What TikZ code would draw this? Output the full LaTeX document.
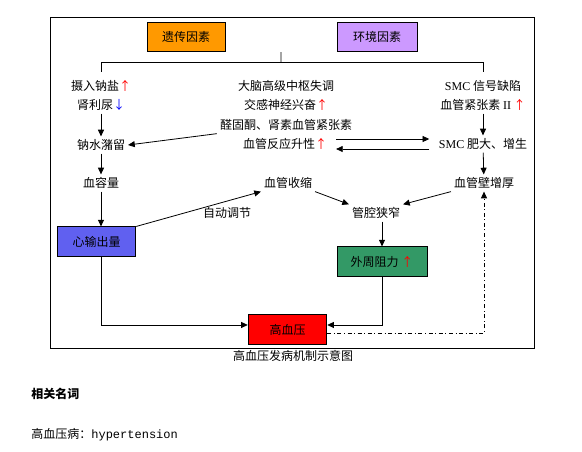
\documentclass[tikz,border=0pt]{standalone}
\usepackage{fontspec}
\setmainfont{Noto Sans CJK SC}
\newfontfamily\latserif{Liberation Serif}
\newfontfamily\monotxt{Liberation Mono}
\usepackage{tikz}
\usetikzlibrary{arrows.meta,positioning,calc}
\definecolor{cgene}{RGB}{255,153,0}
\definecolor{cenv}{RGB}{204,153,255}
\definecolor{cheart}{RGB}{96,96,240}
\definecolor{cresist}{RGB}{51,153,102}
\definecolor{chbp}{RGB}{255,0,0}
\newcommand{\Rup}{\textcolor{red}{↑}}
\newcommand{\Bdown}{\textcolor{blue}{↓}}
\newcommand{\cnfont}{\fontsize{9pt}{14.25pt}\selectfont}

\begin{document}
\begin{tikzpicture}[x=0.75pt,y=-0.75pt,
    line width=0.6pt,
    arr/.style={-{Triangle[length=5pt,width=4.5pt]}},
    txt/.style={font=\cnfont, align=center, inner sep=2pt},
    fbox/.style={draw, font=\cnfont, minimum height=22pt, inner sep=0pt}]
    \fill[white] (0,0) rectangle (582,451);
    \useasboundingbox (0,0) rectangle (582,451);
    \draw (50,17) rectangle (534,348);

    % causes
    \node[fbox, fill=cgene, minimum width=58.5pt] (gene) at (186,37) {遗传因素};
    \node[fbox, fill=cenv, minimum width=60pt] (env) at (377,37) {环境因素};
    \coordinate (join) at ($(gene.south east)!0.5!(env.south west)$);
    \coordinate (fork) at (281,62);

    % first row
    \node[txt] (salt) at (101,95.5) {摄入钠盐\Rup\\肾利尿\Bdown};
    \node[txt] (brain) at (286,95.5) {大脑高级中枢失调\\交感神经兴奋\Rup};
    \node[txt] (angio) at (483,95.5) {{\latserif SMC} 信号缺陷\\血管紧张素 {\latserif II} \Rup};
    \draw (join) -- (fork);
    \draw (salt.north |- fork) -- (angio.north |- fork);
    \draw (salt.north |- fork) -- ([yshift=4pt]salt.north);
    \draw (angio.north |- fork) -- ([yshift=4pt]angio.north);

    % middle rows
    \node[txt] (aldo) at (286,125) {醛固酮、肾素血管紧张素};
    \node[txt] (retain) at (101,145) {钠水潴留};
    \node[txt] (react) at (285,144) {血管反应升性\Rup};
    \node[txt] (hyper) at (483,144) {{\latserif SMC} 肥大、增生};
    \node[txt] (volume) at (101,183) {血容量};
    \node[txt] (constrict) at (288,183) {血管收缩};
    \node[txt] (wall) at (484,183) {血管壁增厚};
    \node[txt] (narrow) at (376,213) {管腔狭窄};
    \node[txt] (autoreg) at (227,213) {自动调节};

    % boxes
    \node[fbox, fill=cheart, minimum width=59pt] (cardiac) at (96.5,241.5) {心输出量};
    \node[fbox, fill=cresist, minimum width=67.5pt] (resist) at (382,261.5) {外周阻力 \Rup};
    \node[fbox, fill=chbp, minimum width=59pt] (hbp) at (287.5,329.5) {高血压};

    % connectors
    \draw[arr] (salt) -- (retain);
    \draw[arr] (aldo.south west) -- (retain.east);
    \draw[arr] (retain) -- (volume);
    \draw[arr] (volume.south) -- (volume.south |- cardiac.north);
    \draw[arr] (cardiac.north east) -- (constrict.south west);
    \draw[arr, shorten <=4.5pt, shorten >=5pt] ([yshift=3.75pt]react.east) -- ([yshift=3.75pt]hyper.west);
    \draw[arr, shorten <=5pt, shorten >=4.5pt] ([yshift=-3.75pt]hyper.west) -- ([yshift=-3.75pt]react.east);
    \draw[arr] (angio) -- (hyper);
    \draw[arr] (hyper) -- (wall);
    \draw[arr] (constrict.south east) -- (narrow.north west);
    \draw[arr] (wall.south west) -- (narrow.north east);
    \draw[arr] (resist.north |- narrow.south) -- (resist.north);
    \draw[arr] (volume.south |- cardiac.south) |- ([yshift=3.4pt]hbp.west);
    \draw[arr] (resist.south) |- ([yshift=3.4pt]hbp.east);
    \draw[arr, dash dot] ([yshift=-3pt]hbp.east) -| (wall.south);

    % caption and text below
    \node[txt] (caption) at (293,356) {高血压发病机制示意图};
    \node[txt, anchor=west, inner sep=0pt] (terms) at (31,394) {\bfseries 相关名词};
    \node[txt, anchor=west, inner sep=0pt] (hyptext) at (31,435) {高血压病：{\monotxt hypertension}};
  \end{tikzpicture}
\end{document}
